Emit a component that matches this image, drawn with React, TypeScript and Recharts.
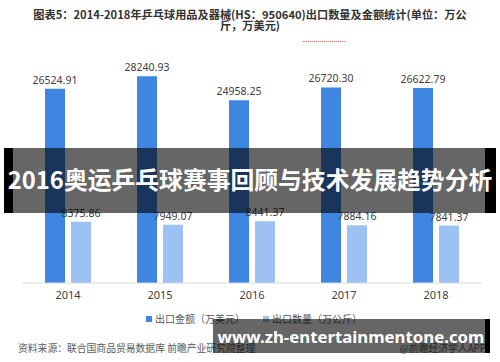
import React from 'react';
import { BarChart, Bar, XAxis, YAxis, LabelList } from 'recharts';

// ── data ──────────────────────────────────────────────
const years = ['2014', '2015', '2016', '2017', '2018'];
const exportValue = [26524.91, 28240.93, 24958.25, 26720.3, 26622.79]; // 万美元
const exportQty = [8375.86, 7949.07, 8441.37, 7884.16, 7841.37];       // 万公斤

const data = years.map((y, i) => ({ year: y, value: exportValue[i], qty: exportQty[i] }));

const DARK = '#3f86e0';
const LIGHT = '#9bc2f3';
const CJK = '"Noto Sans CJK SC", "Noto Sans", sans-serif';

const fmt = (v: number) => v.toFixed(2);

const App: React.FC = () => {
  return (
    <div style={{ position: 'absolute', left: 0, top: 0, width: 500, height: 362, background: '#fff', overflow: 'hidden', fontFamily: CJK }}>
      {/* title */}
      <div style={{ position: 'absolute', left: 0, top: 9, width: 500, textAlign: 'center', fontSize: 11.2, fontWeight: 700, color: '#333', lineHeight: '11px' }}>
        图表5：2014-2018年乒乓球用品及器械(HS：950640)出口数量及金额统计(单位：万公<br />斤，万美元)
      </div>
      <div style={{ position: 'absolute', left: 303, top: 41, width: 42, borderTop: '1px dotted #f07070' }} />

      <div style={{ position: 'absolute', left: 0, top: 0 }}>
        <BarChart width={500} height={313} data={data} margin={{ top: 63.4, right: 18, bottom: 0, left: 22 }}
          barCategoryGap="25%" barGap={6}>
          <XAxis dataKey="year" height={30} tickLine={false} axisLine={{ stroke: '#d9d9d9' }}
            tick={{ fill: '#404040', fontSize: 11, fontFamily: '"Noto Sans", sans-serif' }} />
          <YAxis hide domain={[0, 30000]} />
          <Bar dataKey="value" fill={DARK} barSize={20} isAnimationActive={false}>
            <LabelList dataKey="value" position="top" offset={5} formatter={fmt}
              style={{ fill: '#404040', fontSize: 10.5, fontFamily: '"Noto Sans", sans-serif' }} />
          </Bar>
          <Bar dataKey="qty" fill={LIGHT} barSize={20} isAnimationActive={false}>
            <LabelList dataKey="qty" position="top" offset={5} formatter={fmt}
              style={{ fill: '#404040', fontSize: 10.5, fontFamily: '"Noto Sans", sans-serif' }} />
          </Bar>
        </BarChart>
      </div>

      {/* legend */}
      <div style={{ position: 'absolute', left: 146, top: 312, display: 'flex', gap: 18, fontSize: 10, color: '#595959', lineHeight: '14px' }}>
        <span style={{ display: 'flex', alignItems: 'center', gap: 3 }}>
          <span style={{ width: 6, height: 6, background: DARK, display: 'inline-block' }} />
          出口金额（万美元）
        </span>
        <span style={{ display: 'flex', alignItems: 'center', gap: 3 }}>
          <span style={{ width: 6, height: 6, background: LIGHT, display: 'inline-block' }} />
          出口数量（万公斤）
        </span>
      </div>

      {/* footer */}
      <div style={{ position: 'absolute', left: 18, top: 341, fontSize: 9.8, color: '#595959', lineHeight: '14px' }}>
        资料来源：联合国商品贸易数据库 前瞻产业研究院整理
      </div>
      <div style={{ position: 'absolute', right: 14, top: 341, fontSize: 9.8, color: '#595959', lineHeight: '14px' }}>
        @前瞻经济学人APP
      </div>

      {/* overlay banner */}
      <div style={{ position: 'absolute', left: 4, top: 148, width: 492, height: 65, background: 'rgba(0,0,0,0.6)' }} />
      <div style={{ position: 'absolute', left: 4, top: 148, width: 9, height: 65, background: '#000' }} />
      <div style={{ position: 'absolute', left: 485, top: 148, width: 11, height: 65, background: '#000' }} />
      <div style={{ position: 'absolute', left: 0, top: 148, width: 500, height: 65, display: 'flex', alignItems: 'center', justifyContent: 'center', color: '#fff', fontWeight: 700, fontSize: 23.8, whiteSpace: 'nowrap', paddingBottom: 4, boxSizing: 'border-box' }}>
        2016奥运乒乓球赛事回顾与技术发展趋势分析
      </div>

      {/* site banner */}
      <div style={{ position: 'absolute', left: 213, top: 319, width: 272, height: 34, background: 'rgba(0,0,0,0.6)' }} />
      <div style={{ position: 'absolute', left: 485, top: 319, width: 5, height: 34, background: '#000' }} />
      <div style={{ position: 'absolute', left: 215, top: 319, width: 272, height: 34, display: 'flex', alignItems: 'center', justifyContent: 'center', color: '#fff', fontWeight: 700, fontSize: 16.8, fontFamily: '"Noto Sans", sans-serif', whiteSpace: 'nowrap' }}>
        www.zh-entertainmentone.com
      </div>
    </div>
  );
};

export default App;
